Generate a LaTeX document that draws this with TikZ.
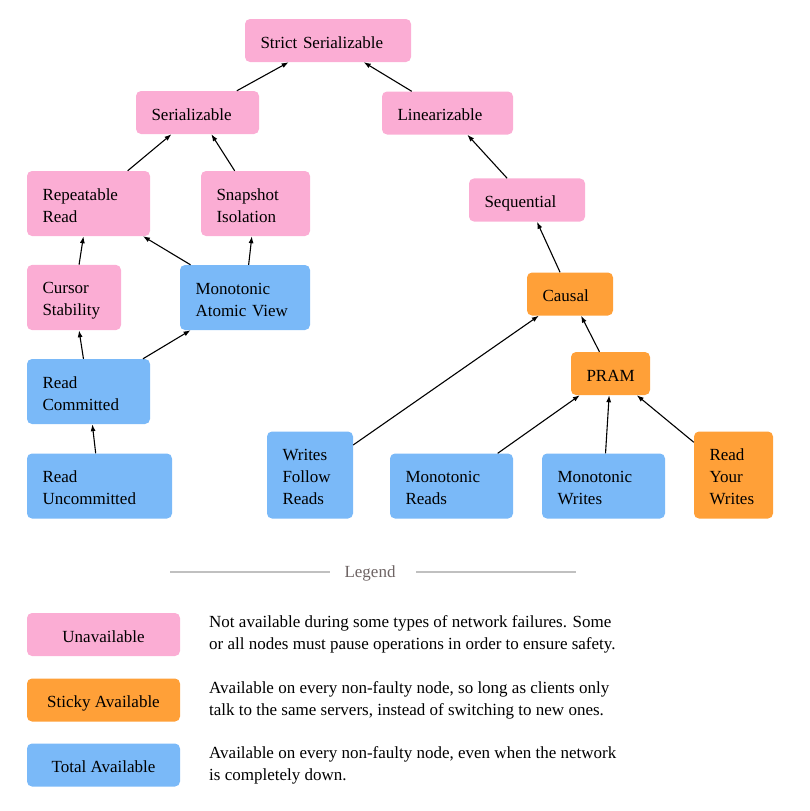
\documentclass[tikz,border=0pt]{standalone}
\usepackage{fontspec}
\setmainfont{LiberationSerif}[Extension=.ttf,UprightFont=*-Regular,BoldFont=*-Bold,ItalicFont=*-Italic,BoldItalicFont=*-BoldItalic]
\usetikzlibrary{arrows.meta}

\definecolor{unavail}{RGB}{251,173,212}
\definecolor{sticky}{RGB}{255,160,56}
\definecolor{total}{RGB}{122,185,248}
\definecolor{legendgray}{RGB}{110,100,100}
\definecolor{rulegray}{RGB}{192,192,192}

\newcommand{\topstrut}{\rule{0pt}{18.5pt}}
\newcommand{\botstrut}{\rule[-3.5pt]{0pt}{3.5pt}}

\begin{document}
\begin{tikzpicture}[x=1pt,y=-1pt,
    model/.style={rectangle,rounded corners=5pt,inner xsep=15.5pt,inner ysep=10.5pt,
        align=left,font=\fontsize{17}{22}\selectfont,
        execute at begin node=\topstrut,execute at end node=\botstrut},
    unav/.style={model,fill=unavail},
    stick/.style={model,fill=sticky},
    tot/.style={model,fill=total},
    edge/.style={-{Latex[length=7pt,width=5pt]},line width=1.1pt},
    keybox/.style={rectangle,rounded corners=5pt,minimum width=153pt,minimum height=43pt,
        font=\fontsize{17}{22}\selectfont,
        execute at begin node=\topstrut,execute at end node=\botstrut},
    keytext/.style={anchor=west,inner sep=0pt,align=left,font=\fontsize{17}{22}\selectfont,
        execute at begin node=\topstrut,execute at end node=\botstrut}]
        \useasboundingbox (0,0) rectangle (809,811);

        % consistency models
        \node[unav,text width=135pt] (strict) at (328,40.5) {Strict Serializable};
        \node[unav,text width=92pt] (ser) at (197.5,112.5) {Serializable};
        \node[unav,text width=100pt] (lin) at (447.5,113) {Linearizable};
        \node[unav,text width=92pt] (rr) at (88.5,203.5) {Repeatable\\Read};
        \node[unav,text width=78pt] (si) at (255.5,203.5) {Snapshot\\Isolation};
        \node[unav,text width=85pt] (seq) at (527,200) {Sequential};
        \node[unav,text width=63pt] (cs) at (74,297.5) {Cursor\\Stability};
        \node[tot,text width=99pt] (mav) at (245,297.5) {Monotonic\\Atomic View};
        \node[stick,text width=55pt] (causal) at (570,294) {Causal};
        \node[stick,text width=48pt] (pram) at (610.5,373.5) {PRAM};
        \node[tot,text width=92pt] (rc) at (88.5,391.5) {Read\\Committed};
        \node[tot,text width=114pt] (ru) at (99.5,486) {Read\\Uncommitted};
        \node[tot,text width=55pt] (wfr) at (310,475) {Writes\\Follow\\Reads};
        \node[tot,text width=92pt] (mr) at (451.5,486) {Monotonic\\Reads};
        \node[tot,text width=92pt] (mw) at (603.5,486) {Monotonic\\Writes};
        \node[stick,text width=48pt] (ryw) at (733.5,475) {Read\\Your\\Writes};

        \draw[edge] (ser) -- (strict);
        \draw[edge] (lin) -- (strict);
        \draw[edge] (rr) -- (ser);
        \draw[edge] (si) -- (ser);
        \draw[edge] (cs) -- (rr);
        \draw[edge] (mav) -- (rr);
        \draw[edge] (mav) -- (si);
        \draw[edge] (rc) -- (cs);
        \draw[edge] (rc) -- (mav);
        \draw[edge] (ru) -- (rc);
        \draw[edge] (seq) -- (lin);
        \draw[edge] (causal) -- (seq);
        \draw[edge] (wfr) -- (causal);
        \draw[edge] (pram) -- (causal);
        \draw[edge] (mr) -- (pram);
        \draw[edge] (mw) -- (pram);
        \draw[edge] (ryw) -- (pram);

        % legend
        \node[text=legendgray,inner sep=0pt,font=\fontsize{17}{22}\selectfont] (legend) at (370,573) {Legend};
        \draw[rulegray,line width=1.5pt] (170,572) -- (330,572);
        \draw[rulegray,line width=1.5pt] (416,572) -- (576,572);

        \node[keybox,fill=unavail] (kunav) at (103.5,634.5) {Unavailable};
        \node[keybox,fill=sticky] (kstick) at (103.5,700) {Sticky Available};
        \node[keybox,fill=total] (ktot) at (103.5,765) {Total Available};

        \node[keytext] (dunav) at (209,634.5) {Not available during some types of network failures. Some\\or all nodes must pause operations in order to ensure safety.};
        \node[keytext] (dstick) at (209,700) {Available on every non-faulty node, so long as clients only\\talk to the same servers, instead of switching to new ones.};
        \node[keytext] (dtot) at (209,765) {Available on every non-faulty node, even when the network\\is completely down.};
    \end{tikzpicture}
\end{document}
